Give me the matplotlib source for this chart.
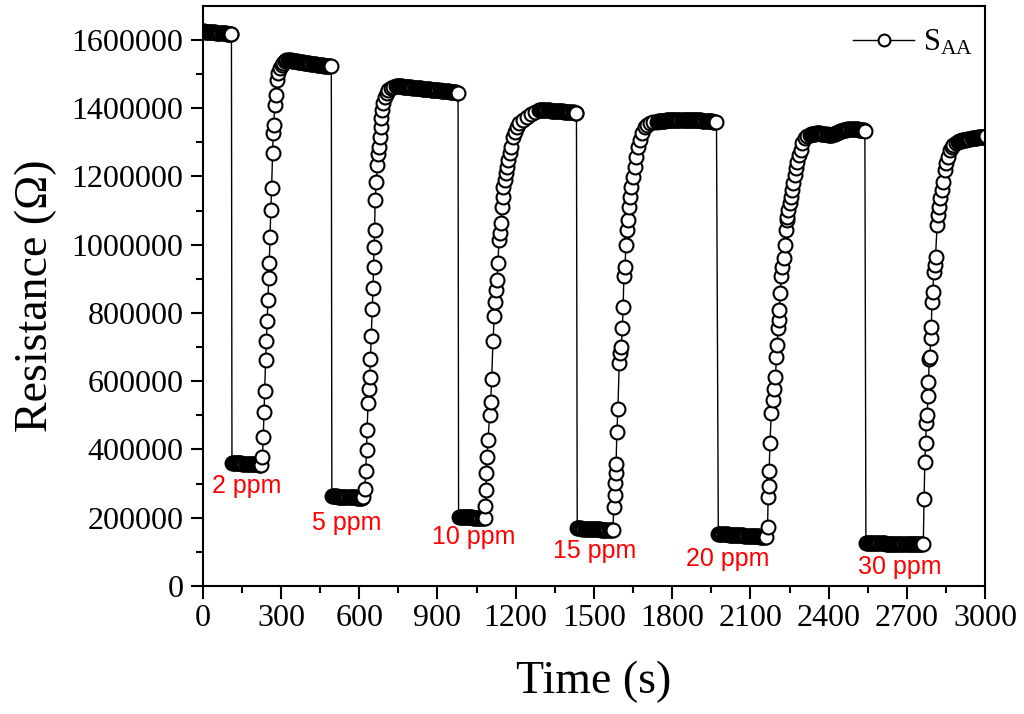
import matplotlib.pyplot as plt
import numpy as np

plt.rcParams['font.family'] = ['Liberation Serif', 'DejaVu Serif']
plt.rcParams['mathtext.default'] = 'regular'

# ---- cycle 1 (baseline, 2 ppm) ----
c1_base_t = [0, 4, 8, 12, 16, 20, 24, 28, 32, 36, 40, 44, 48, 52, 56, 60, 64,
             68, 72, 76, 80, 84, 88, 92, 96, 100, 104, 108, 110]
c1_base_r = [1625000, 1624700, 1624400, 1624200, 1623900, 1623600, 1623300,
             1623000, 1622700, 1622500, 1622200, 1621900, 1621600, 1621300,
             1621000, 1620700, 1620500, 1620200, 1619900, 1619600, 1619300,
             1619000, 1618700, 1618500, 1618200, 1617900, 1617600, 1617300,
             1617000]
c1_low_t = [112, 116, 120, 124, 128, 132, 136, 140, 144, 148, 152, 156, 160,
            164, 168, 172, 176, 180, 184, 188, 192, 196, 200, 204, 208, 212,
            216, 220]
c1_low_r = [360000, 360000, 360000, 360000, 360000, 359000, 359000, 359000,
            359000, 359000, 358000, 358000, 358000, 358000, 358000, 358000,
            357000, 357000, 357000, 357000, 357000, 357000, 356000, 356000,
            356000, 356000, 355000, 355000]
c1_rise_t = [225, 229, 232, 235, 238, 241, 244, 247, 250, 253, 255, 258, 261,
             264, 268, 270, 272, 276, 280, 285, 289, 295, 302, 308, 314, 321]
c1_rise_r = [354600, 377100, 435800, 509000, 572300, 662300, 717900, 777400,
             838100, 901700, 945600, 1023600, 1101800, 1165400, 1268000,
             1326600, 1350900, 1409500, 1438800, 1482800, 1502400, 1517000,
             1525000, 1531600, 1537000, 1541400]
c1_top_t = [325, 329, 333, 337, 341, 345, 349, 353, 357, 361, 365, 369, 373,
            377, 381, 385, 389, 393, 397, 401, 405, 409, 413, 417, 421, 425,
            429, 433, 437, 441, 445, 449, 453, 457, 461, 465, 469, 473, 477,
            481, 485, 489, 493]
c1_top_r = [1541000, 1541000, 1540000, 1540000, 1539000, 1539000, 1538000,
            1538000, 1537000, 1537000, 1536000, 1536000, 1535000, 1535000,
            1534000, 1534000, 1533000, 1533000, 1532000, 1532000, 1531000,
            1531000, 1530000, 1530000, 1529000, 1529000, 1528000, 1528000,
            1527000, 1527000, 1526000, 1526000, 1525000, 1525000, 1525000,
            1524000, 1524000, 1524000, 1523000, 1523000, 1523000, 1522000,
            1522000]

# ---- cycle 2 (5 ppm) ----
c2_low_t = [495, 499, 503, 507, 511, 515, 519, 523, 527, 531, 535, 539, 543,
            547, 551, 555, 559, 563, 567, 571, 575, 579, 583, 587, 591, 595,
            599, 603, 607, 611]
c2_low_r = [263000, 263000, 263000, 263000, 263000, 263000,
            262000, 262000, 262000, 262000, 262000, 262000,
            261000, 261000, 261000, 261000, 261000, 261000,
            260000, 260000, 260000, 260000, 260000, 260000,
            259000, 259000, 259000, 259000, 259000, 259000]
c2_rise_t = [613, 621, 625, 628, 630, 634, 637, 640, 643, 646, 650, 653, 655,
             657, 659, 661, 666, 670, 673, 676, 679, 682, 685, 689, 692, 698,
             705, 712, 720, 730, 740]
c2_rise_r = [261000, 283200, 337700, 398500, 457100, 535300, 576400, 611500,
             664300, 732600, 810900, 872400, 935700, 994300, 1043200, 1131100,
             1184800, 1233700, 1265900, 1287300, 1316700, 1346000, 1370500,
             1394900, 1414500, 1433800, 1443700, 1452000, 1458300, 1463000,
             1466000]
c2_top_t = [744, 748, 752, 756, 760, 764, 768, 772, 776, 780, 784, 788, 792,
            796, 800, 804, 808, 812, 816, 820, 824, 828, 832, 836, 840, 844,
            848, 852, 856, 860, 864, 868, 872, 876, 880, 884, 888, 892, 896,
            900, 904, 908, 912, 916, 920, 924, 928, 932, 936, 940, 944, 948,
            952, 956, 960, 964, 968, 972, 976, 979]
c2_top_r = [1466000, 1466000, 1465000, 1465000, 1464000, 1464000,
            1463000, 1463000, 1463000, 1462000, 1462000, 1462000,
            1461000, 1461000, 1461000, 1460000, 1460000, 1460000,
            1459000, 1459000, 1459000, 1458000, 1458000, 1458000,
            1457000, 1457000, 1457000, 1456000, 1456000, 1456000,
            1455000, 1455000, 1455000, 1454000, 1454000, 1454000,
            1453000, 1453000, 1453000, 1452000, 1452000, 1452000,
            1451000, 1451000, 1451000, 1450000, 1450000, 1450000,
            1449000, 1449000, 1449000, 1448000, 1448000, 1448000,
            1447000, 1447000, 1446000, 1446000, 1445000, 1444000]

# ---- cycle 3 (10 ppm) ----
c3_low_t = [981, 985, 989, 993, 997, 1001, 1005, 1009, 1013, 1017, 1021, 1025,
            1029, 1033, 1037, 1041, 1045, 1049, 1053, 1057, 1061, 1065, 1069,
            1073, 1077, 1081]
c3_low_r = [203000, 203000, 203000, 203000, 202000, 202000, 202000, 202000,
            202000, 201000, 201000, 201000, 201000, 201000, 200000, 200000,
            200000, 200000, 199000, 199000, 199000, 199000, 198000, 198000,
            198000, 198000]
c3_rise_t = [1084, 1086, 1088, 1090, 1094, 1100, 1104, 1108, 1113, 1118, 1122,
             1125, 1128, 1132, 1136, 1139, 1142, 1146, 1150, 1153, 1158, 1163,
             1167, 1171, 1177, 1183, 1190, 1196, 1204, 1214, 1227, 1242, 1260,
             1275, 1290]
c3_rise_r = [234400, 281300, 332000, 378900, 427800, 501100, 540100, 605700,
             718800, 791200, 833100, 867400, 896700, 945600, 1013900, 1033600,
             1062800, 1111500, 1140800, 1170100, 1189700, 1209400, 1228700,
             1248400, 1268000, 1287300, 1316700, 1331300, 1346000, 1355900,
             1365600, 1375300, 1384000, 1389900, 1394000]
c3_top_t = [1294, 1298, 1302, 1306, 1310, 1314, 1318, 1322, 1326, 1330, 1334,
            1338, 1342, 1346, 1350, 1354, 1358, 1362, 1366, 1370, 1374, 1378,
            1382, 1386, 1390, 1394, 1398, 1402, 1406, 1410, 1414, 1418, 1422,
            1426, 1430, 1433]
c3_top_r = [1394000, 1394000, 1394000, 1394000, 1394000, 1394000, 1394000,
            1394000, 1394000, 1394000, 1393000, 1393000, 1393000, 1393000,
            1393000, 1392000, 1392000, 1392000, 1392000, 1391000, 1391000,
            1391000, 1391000, 1390000, 1390000, 1390000, 1390000, 1389000,
            1389000, 1389000, 1389000, 1388000, 1388000, 1387000, 1386000,
            1385000]

# ---- cycle 4 (15 ppm) ----
c4_low_t = [1436, 1440, 1444, 1448, 1452, 1456, 1460, 1464, 1468, 1472, 1476,
            1480, 1484, 1488, 1492, 1496, 1500, 1504, 1508, 1512, 1516, 1520,
            1524, 1528, 1532, 1536, 1540, 1544, 1548, 1552, 1556, 1560, 1564,
            1568, 1572]
c4_low_r = [169000, 169000, 169000, 169000, 169000,
            168000, 168000, 168000, 168000, 168000, 168000,
            167000, 167000, 167000, 167000, 167000, 167000,
            166000, 166000, 166000, 166000, 166000, 166000,
            165000, 165000, 165000, 165000, 165000, 165000,
            164000, 164000, 164000, 164000, 164000, 164000]
c4_rise_t = [1577, 1579, 1581, 1583, 1585, 1588, 1592, 1597, 1601, 1605, 1609,
             1612, 1615, 1619, 1623, 1628, 1631, 1635, 1638, 1644, 1650, 1657,
             1663, 1670, 1676, 1683, 1695, 1705, 1715, 1727, 1740]
c4_rise_r = [232400, 266700, 301000, 330300, 357500, 452200, 517800, 652600,
             681900, 701200, 755200, 818500, 908400, 935700, 999300, 1043200,
             1072500, 1111500, 1140800, 1170100, 1199400, 1228700, 1258000,
             1287300, 1306900, 1326600, 1345900, 1351000, 1355900, 1358000,
             1360600]
c4_top_t = [1744, 1748, 1752, 1756, 1760, 1764, 1768, 1772, 1776, 1780, 1784,
            1788, 1792, 1796, 1800, 1804, 1808, 1812, 1816, 1820, 1824, 1828,
            1832, 1836, 1840, 1844, 1848, 1852, 1856, 1860, 1864, 1868, 1872,
            1876, 1880, 1884, 1888, 1892, 1896, 1900, 1904, 1908, 1912, 1916,
            1920, 1924, 1928, 1932, 1936, 1940, 1944, 1948, 1952, 1956, 1960,
            1964, 1970]
c4_top_r = [1361000, 1361000, 1362000, 1362000, 1362000, 1363000, 1363000,
            1363000, 1364000, 1364000, 1364000, 1365000, 1365000, 1365000,
            1365000, 1365000, 1365000, 1366000, 1366000, 1366000, 1366000,
            1366000, 1366000, 1366000, 1366000, 1366000, 1366000, 1366000,
            1366000, 1366000, 1366000, 1365000, 1365000, 1365000, 1365000,
            1365000, 1365000, 1365000, 1365000, 1364000, 1364000, 1364000,
            1364000, 1363000, 1363000, 1363000, 1363000, 1362000, 1362000,
            1362000, 1361000, 1361000, 1361000, 1360000, 1360000, 1360000,
            1359000]

# ---- cycle 5 (20 ppm) ----
c5_low_t = [1977, 1981, 1985, 1989, 1993, 1997, 2001, 2005, 2009, 2013, 2017,
            2021, 2025, 2029, 2033, 2037, 2041, 2045, 2049, 2053, 2057, 2061,
            2065, 2069, 2073, 2077, 2081, 2085, 2089, 2093, 2097, 2101, 2105,
            2109, 2113, 2117, 2121, 2125, 2129, 2133, 2137, 2141, 2145, 2149,
            2153, 2157, 2161]
c5_low_r = [152000, 152000, 152000, 152000, 152000,
            151000, 151000, 151000, 151000, 151000,
            150000, 150000, 150000, 150000, 150000,
            149000, 149000, 149000, 149000, 149000,
            148000, 148000, 148000, 148000, 148000,
            147000, 147000, 147000, 147000, 147000,
            146000, 146000, 146000, 146000, 146000,
            145000, 145000, 145000, 145000, 145000,
            144000, 144000, 144000, 144000,
            143000, 143000, 143000]
c5_rise_t = [2166, 2168, 2170, 2172, 2175, 2180, 2186, 2191, 2196, 2200, 2203,
             2206, 2209, 2211, 2214, 2219, 2223, 2228, 2232, 2236, 2239, 2242,
             2246, 2251, 2256, 2260, 2264, 2270, 2276, 2280, 2287, 2293, 2299,
             2309, 2318, 2328]
c5_rise_r = [173800, 261700, 293000, 337900, 418200, 506100, 545100, 576400,
             611500, 672000, 706200, 755200, 779500, 808800, 857700, 908400,
             935700, 960300, 999300, 1043200, 1072500, 1082200, 1101800,
             1121500, 1140800, 1160400, 1180100, 1204400, 1224000, 1243400,
             1263000, 1277700, 1297300, 1312000, 1318000, 1321600]
c5_top_t = [2332, 2336, 2340, 2344, 2348, 2352, 2356, 2360, 2364, 2368, 2372,
            2376, 2380, 2384, 2388, 2392, 2396, 2400, 2404, 2408, 2412, 2416,
            2420, 2424, 2428, 2432, 2436, 2440, 2444, 2448, 2452, 2456, 2460,
            2464, 2468, 2472, 2476, 2480, 2484, 2488, 2492, 2496, 2500, 2504,
            2508, 2512, 2516, 2520, 2524, 2528, 2532, 2536, 2539]
c5_top_r = [1323000, 1324000, 1324000, 1325000, 1325000, 1326000, 1326500,
            1326500, 1326000, 1326000, 1325500, 1325000, 1324500, 1324000,
            1323500, 1323000, 1322500, 1322000, 1321600, 1321800, 1322500,
            1323500, 1324500, 1325500, 1327000, 1328500, 1330000, 1331000,
            1332000, 1333000, 1334000, 1335000, 1336000, 1336500, 1337000,
            1337500, 1338000, 1338300, 1338300, 1338300, 1338300, 1338300,
            1338300, 1338300, 1338000, 1337500, 1337000, 1336500, 1336000,
            1335500, 1335000, 1334500, 1334200]

# ---- cycle 6 (30 ppm) ----
c6_low_t = [2543, 2547, 2551, 2555, 2559, 2563, 2567, 2571, 2575, 2579, 2583,
            2587, 2591, 2595, 2599, 2603, 2607, 2611, 2615, 2619, 2623, 2627,
            2631, 2635, 2639, 2643, 2647, 2651, 2655, 2659, 2663, 2667, 2671,
            2675, 2679, 2683, 2687, 2691, 2695, 2699, 2703, 2707, 2711, 2715,
            2719, 2723, 2727, 2731, 2735, 2739, 2743, 2747, 2751, 2755, 2759,
            2763]
c6_low_r = [125000, 125000, 125000, 125000, 125000, 125000, 125000, 125000,
            125000, 125000, 125000, 125000, 125000, 125000, 125000, 125000,
            125000, 125000, 125000,
            124000, 124000, 124000, 124000, 124000, 124000, 124000, 124000,
            124000, 124000, 124000, 124000, 124000, 124000, 124000, 124000,
            124000, 124000, 124000,
            123000, 123000, 123000, 123000, 123000, 123000, 123000, 123000,
            123000, 123000, 123000, 123000, 123000, 123000, 123000, 123000,
            123000, 123000]
c6_rise_t = [2766, 2769, 2772, 2775, 2778, 2781, 2783, 2786, 2789, 2791, 2794,
             2796, 2799, 2804, 2807, 2810, 2816, 2820, 2824, 2829, 2833, 2840,
             2846, 2852, 2858, 2865, 2872, 2878, 2887, 2897]
c6_rise_r = [254100, 364300, 418200, 476800, 501100, 556800, 598700, 664300,
             672000, 725900, 759800, 833100, 862400, 921000, 940700, 965000,
             1057900, 1087200, 1111500, 1136100, 1160400, 1184800, 1219000,
             1238700, 1258000, 1277700, 1286000, 1292300, 1297000, 1302000]
c6_top_t = [2900, 2904, 2908, 2912, 2916, 2920, 2924, 2928, 2932, 2936, 2940,
            2944, 2948, 2952, 2956, 2960, 2964, 2968, 2972, 2976, 2980, 2984,
            2988, 2992, 2996, 3000, 3004]
c6_top_r = [1303000, 1304000, 1305000, 1305500, 1306000, 1307000, 1307500,
            1308000, 1309000, 1309500, 1310000, 1310500, 1311000, 1311500,
            1312000, 1312500, 1313000, 1313500, 1314000, 1314500, 1315000,
            1315500, 1316000, 1316000, 1316500, 1316500, 1317000]

ppm_labels = ['2 ppm', '5 ppm', '10 ppm', '15 ppm', '20 ppm', '30 ppm']
label_t = [169, 551, 1038, 1504, 2014, 2674]
label_r = [271600, 164100, 122100, 82000, 58600, 35200]

time = np.concatenate([c1_base_t, c1_low_t, c1_rise_t, c1_top_t,
                       c2_low_t, c2_rise_t, c2_top_t,
                       c3_low_t, c3_rise_t, c3_top_t,
                       c4_low_t, c4_rise_t, c4_top_t,
                       c5_low_t, c5_rise_t, c5_top_t,
                       c6_low_t, c6_rise_t, c6_top_t])
res = np.concatenate([c1_base_r, c1_low_r, c1_rise_r, c1_top_r,
                      c2_low_r, c2_rise_r, c2_top_r,
                      c3_low_r, c3_rise_r, c3_top_r,
                      c4_low_r, c4_rise_r, c4_top_r,
                      c5_low_r, c5_rise_r, c5_top_r,
                      c6_low_r, c6_rise_r, c6_top_r])

fig = plt.figure(figsize=(10.24, 7.14), dpi=100)
ax = fig.add_axes([0.198, 0.1793, 0.764, 0.8127])

ax.plot(time, res, '-o', color='black', lw=1.0, ms=10, mfc='white',
        mec='black', mew=1.5, label=r'S$_{AA}$')

for lab, x, y in zip(ppm_labels, label_t, label_r):
    ax.text(x, y, lab, color='red', fontsize=18, ha='center', va='baseline',
            family=['Liberation Sans', 'DejaVu Sans'])

ax.set_xlim(0, 3000)
ax.set_ylim(0, 1700000)
ax.set_xticks(np.arange(0, 3001, 300))
ax.set_xticks(np.arange(150, 3000, 300), minor=True)
ax.set_yticks(np.arange(0, 1600001, 200000))
ax.set_yticks(np.arange(100000, 1700000, 200000), minor=True)
ax.ticklabel_format(axis='y', style='plain', useOffset=False)
ax.tick_params(which='major', direction='out', length=9, width=1.5,
               labelsize=23)
ax.tick_params(which='minor', direction='out', length=5, width=1.5)
ax.tick_params(axis='x', pad=4)
ax.tick_params(axis='y', pad=5)
for sp in ax.spines.values():
    sp.set_linewidth(1.5)

ax.set_xlabel('Time (s)', fontsize=33, labelpad=20)
ax.set_ylabel('Resistance (\u03a9)', fontsize=33, labelpad=10)

ax.legend(loc='center left', bbox_to_anchor=(0.833, 0.94),
          bbox_transform=fig.transFigure, frameon=False, fontsize=22,
          borderpad=0, borderaxespad=0, handlelength=2.0,
          handletextpad=0.3, markerscale=0.85)

plt.savefig('out.png', dpi=100)
